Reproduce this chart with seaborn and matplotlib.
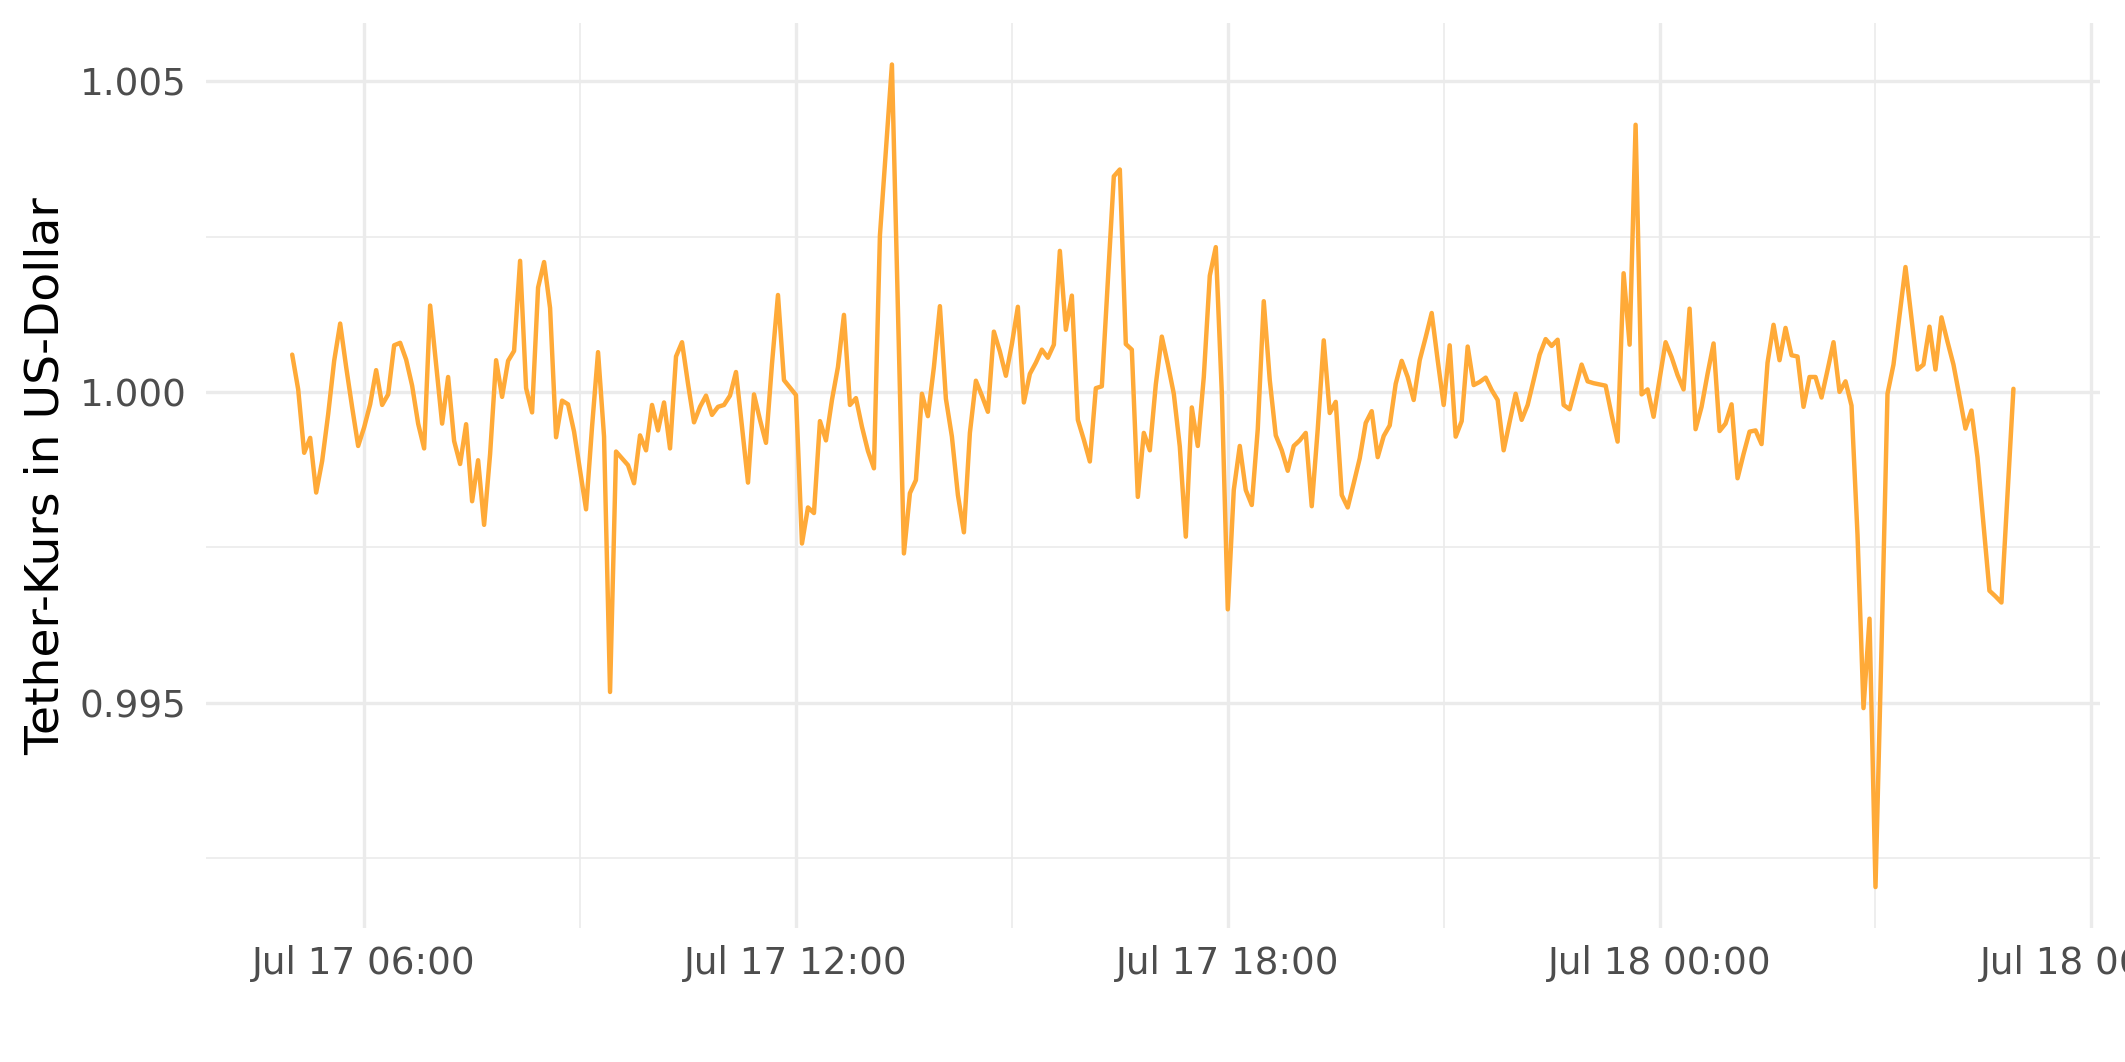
import matplotlib.dates as mdates
import matplotlib.pyplot as plt
import pandas as pd
import seaborn as sns
from matplotlib.ticker import FormatStrFormatter, MultipleLocator

# Tether (USDT) in USD, 5-Minuten-Werte ab Jul 17 05:00
start = "2019-07-17 05:00"
step = "5min"

usdt_05_11 = [
    1.00060, 1.00004, 0.99902, 0.99926, 0.99838, 0.99889, 0.99964, 1.00050, 1.00110, 1.00040, 0.99975, 0.99913,
    0.99943, 0.99980, 1.00035, 0.99979, 0.99996, 1.00075, 1.00079, 1.00052, 1.00010, 0.99949, 0.99909, 1.00139,
    1.00044, 0.99949, 1.00024, 0.99921, 0.99884, 0.99948, 0.99824, 0.99890, 0.99786, 0.99900, 1.00051, 0.99992,
    1.00050, 1.00066, 1.00211, 1.00006, 0.99967, 1.00168, 1.00209, 1.00135, 0.99927, 0.99986, 0.99980, 0.99936,
    0.99874, 0.99811, 0.99944, 1.00064, 0.99928, 0.99517, 0.99904, 0.99893, 0.99882, 0.99853, 0.99930, 0.99906,
    0.99979, 0.99938, 0.99983, 0.99909, 1.00057, 1.00080, 1.00013, 0.99951, 0.99976, 0.99994, 0.99963, 0.99976,
]
usdt_11_17 = [
    0.99979, 0.99994, 1.00032, 0.99944, 0.99854, 0.99996, 0.99955, 0.99918, 1.00045, 1.00156, 1.00019, 1.00007,
    0.99995, 0.99756, 0.99814, 0.99805, 0.99953, 0.99922, 0.99987, 1.00040, 1.00124, 0.99979, 0.99990, 0.99944,
    0.99905, 0.99877, 1.00252, 1.00390, 1.00527, 1.00130, 0.99740, 0.99837, 0.99858, 0.99997, 0.99961, 1.00040,
    1.00138, 0.99989, 0.99928, 0.99834, 0.99774, 0.99934, 1.00018, 0.99994, 0.99968, 1.00097, 1.00065, 1.00026,
    1.00077, 1.00137, 0.99983, 1.00029, 1.00047, 1.00068, 1.00055, 1.00076, 1.00227, 1.00100, 1.00155, 0.99955,
    0.99923, 0.99888, 1.00006, 1.00009, 1.00177, 1.00347, 1.00358, 1.00077, 1.00068, 0.99831, 0.99934, 0.99906,
]
usdt_17_23 = [
    1.00012, 1.00089, 1.00045, 0.99997, 0.99912, 0.99767, 0.99975, 0.99913, 1.00024, 1.00187, 1.00233, 1.00000,
    0.99650, 0.99842, 0.99913, 0.99842, 0.99818, 0.99940, 1.00146, 1.00019, 0.99930, 0.99906, 0.99873, 0.99913,
    0.99922, 0.99934, 0.99816, 0.99940, 1.00083, 0.99966, 0.99984, 0.99834, 0.99814, 0.99853, 0.99893, 0.99950,
    0.99969, 0.99895, 0.99929, 0.99946, 1.00013, 1.00050, 1.00024, 0.99987, 1.00051, 1.00088, 1.00127, 1.00051,
    0.99979, 1.00075, 0.99928, 0.99953, 1.00073, 1.00011, 1.00016, 1.00023, 1.00003, 0.99987, 0.99906, 0.99952,
    0.99997, 0.99955, 0.99979, 1.00019, 1.00060, 1.00085, 1.00074, 1.00084, 0.99979, 0.99972, 1.00008, 1.00044,
]
usdt_23_05 = [
    1.00017, 1.00014, 1.00012, 1.00010, 0.99963, 0.99920, 1.00191, 1.00076, 1.00430, 0.99996, 1.00004, 0.99960,
    1.00021, 1.00080, 1.00056, 1.00027, 1.00004, 1.00134, 0.99940, 0.99976, 1.00029, 1.00078, 0.99937, 0.99949,
    0.99980, 0.99861, 0.99900, 0.99936, 0.99938, 0.99916, 1.00047, 1.00108, 1.00051, 1.00103, 1.00059, 1.00057,
    0.99976, 1.00024, 1.00024, 0.99991, 1.00035, 1.00080, 1.00000, 1.00017, 0.99978, 0.99770, 0.99491, 0.99635,
    0.99203, 0.99588, 0.99997, 1.00044, 1.00122, 1.00201, 1.00118, 1.00036, 1.00044, 1.00105, 1.00036, 1.00120,
    1.00081, 1.00044, 0.99993, 0.99941, 0.99970, 0.99895, 0.99787, 0.99680, 0.99671, 0.99661, 0.99834, 1.00005,
]

price = usdt_05_11 + usdt_11_17 + usdt_17_23 + usdt_23_05
df = pd.DataFrame({
    "time": pd.date_range(start, periods=len(price), freq=step),
    "price": price,
})

sns.set_theme(style="whitegrid")
plt.rcParams["font.family"] = ["DejaVu Sans"]

fig, ax = plt.subplots(figsize=(10.625, 5.31), dpi=200)
fig.subplots_adjust(left=0.097, right=0.988, top=0.978, bottom=0.126)

sns.lineplot(data=df, x="time", y="price", color="#FFAA38", linewidth=1.6, ax=ax)

# ggplot-artige 5%-Erweiterung
t0, t1 = df["time"].min(), df["time"].max()
ax.set_xlim(t0 - 0.05 * (t1 - t0), t1 + 0.05 * (t1 - t0))
p0, p1 = min(price), max(price)
ax.set_ylim(p0 - 0.05 * (p1 - p0), p1 + 0.05 * (p1 - p0))

ax.xaxis.set_major_locator(mdates.HourLocator(byhour=[0, 6, 12, 18]))
ax.xaxis.set_minor_locator(mdates.HourLocator(byhour=[3, 9, 15, 21]))
ax.xaxis.set_major_formatter(mdates.DateFormatter("%b %d %H:%M"))
ax.yaxis.set_major_locator(MultipleLocator(0.005))
ax.yaxis.set_minor_locator(MultipleLocator(0.0025))
ax.yaxis.set_major_formatter(FormatStrFormatter("%.3f"))

ax.grid(which="major", color="#EBEBEB", linewidth=1.2)
ax.grid(which="minor", color="#EBEBEB", linewidth=0.6)
ax.set_facecolor("white")
for s in ax.spines.values():
    s.set_visible(False)

ax.tick_params(which="both", length=0, labelsize=13.4, labelcolor="#4D4D4D")
ax.tick_params(axis="y", pad=7)
ax.tick_params(axis="x", pad=6)
ax.set_xlabel("")
ax.set_ylabel("Tether-Kurs in US-Dollar", fontsize=17, color="black", labelpad=4)

fig.savefig("out.png", dpi=200)
